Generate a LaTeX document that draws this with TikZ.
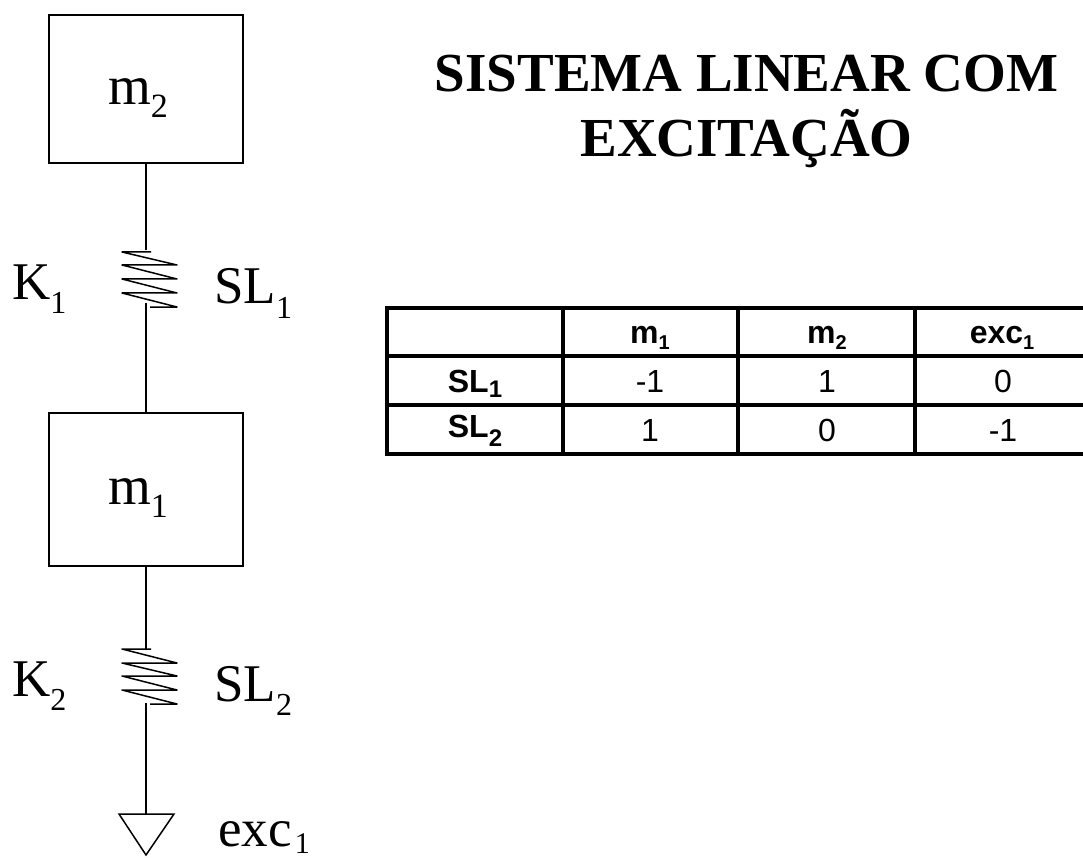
\documentclass[tikz,border=0pt]{standalone}
\usepackage{fontspec}
\setmainfont{Liberation Serif}
\newfontfamily\tabfont{Liberation Sans}
\newcommand{\lowsub}[3]{\raisebox{-#1pt}{\fontsize{#2}{#2}\selectfont #3}}
\tikzset{
  massbox/.style={draw,line width=1.5pt,minimum width=194pt,minimum height=148pt,inner sep=0pt},
  lab/.style={inner sep=0pt,anchor=base west,font=\fontsize{53}{58}\selectfont},
  masslab/.style={lab,font=\fontsize{55}{58}\selectfont},
  wire/.style={line width=1.5pt,line join=round},
  grid/.style={line width=3.4pt},
  cell/.style={inner sep=0pt,anchor=base,font=\tabfont\fontsize{32}{36}\selectfont},
  head/.style={inner sep=0pt,anchor=base,font=\tabfont\bfseries\fontsize{32}{36}\selectfont},
  titletext/.style={inner sep=0pt,anchor=base,font=\bfseries\fontsize{55}{60}\selectfont}
}
\begin{document}
\begin{tikzpicture}[x=1pt,y=-1pt]
\useasboundingbox (0,0) rectangle (1083,858);
\node[massbox] (m2) at (146,89) {};
\node[massbox,minimum height=153pt] (m1) at (146,489.5) {};
\node[masslab] (m2t) at (108,105) {m\lowsub{13}{34}{2}};
\node[masslab] (m1t) at (108,504) {m\lowsub{13}{34}{1}};
% spring 1
\coordinate (s1t) at (146,250);
\coordinate (s1b) at (146,303);
\draw[wire] (m2.south) -- (s1t);
\draw[wire] (s1b) -- (m1.north);
\draw[wire] (151,252) -- (122,252) -- (177,265) -- (122,265) -- (177,279) -- (122,279) -- (177,293) -- (122,293) -- (177,307) -- (150,307);
% spring 2
\coordinate (s2t) at (146,649);
\coordinate (s2b) at (146,703);
\coordinate (g) at (146,814);
\draw[wire] (m1.south) -- (s2t);
\draw[wire] (s2b) -- (g);
\draw[wire] (151,649) -- (122,649) -- (177,663) -- (122,663) -- (177,676) -- (122,676) -- (177,690) -- (122,690) -- (177,704) -- (150,704);
\draw[wire,line join=miter] (119,814) -- (174,814) -- (146,855) -- cycle;
% labels
\node[lab] (k1) at (12,299) {K\lowsub{14}{32}{1}};
\node[lab] (sl1) at (214,304) {SL\lowsub{14}{32}{1}};
\node[lab] (k2) at (12,696) {K\lowsub{14}{32}{2}};
\node[lab] (sl2) at (214,701) {SL\lowsub{14}{32}{2}};
\node[lab] (ex) at (218,846) {exc\hspace{3pt}\lowsub{7}{30}{1}};
% title
\node[titletext] (t1) at (746.5,92) {SISTEMA LINEAR COM};
\node[titletext] (t2) at (746.5,157) {EXCITAÇÃO};
% table
\draw[grid] (387,308) rectangle (1090,454);
\draw[grid] (387,356) -- (1090,356);
\draw[grid] (387,405) -- (1090,405);
\draw[grid] (563,308) -- (563,454);
\draw[grid] (738,308) -- (738,454);
\draw[grid] (915,308) -- (915,454);
\node[head] (h1) at (650,343) {m\lowsub{6}{20}{1}};
\node[head] (h2) at (827,343) {m\lowsub{6}{20}{2}};
\node[head] (h3) at (1002,343) {exc\lowsub{6}{20}{1}};
\node[head] (r1) at (475,392) {SL\lowsub{5}{24}{1}};
\node[head] (r2) at (475,437) {SL\lowsub{9}{24}{2}};
\node[cell] (a11) at (650,392) {-1};
\node[cell] (a12) at (827,392) {1};
\node[cell] (a13) at (1003,392) {0};
\node[cell] (a21) at (650,441) {1};
\node[cell] (a22) at (827,441) {0};
\node[cell] (a23) at (1003,441) {-1};
\end{tikzpicture}
\end{document}
